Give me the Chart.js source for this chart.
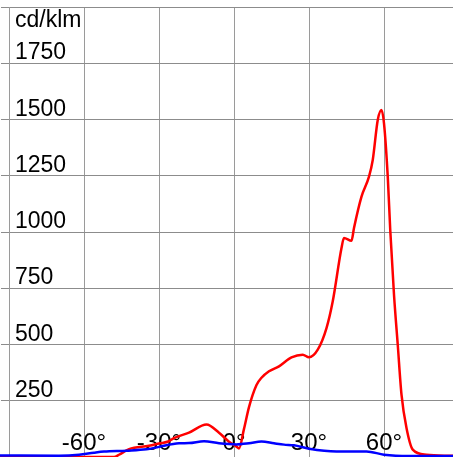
<!DOCTYPE html>
<html>
<head>
<meta charset="utf-8">
<script src="https://cdn.jsdelivr.net/npm/chart.js@4/dist/chart.umd.min.js"></script>
<style>
  html, body { margin: 0; padding: 0; background: #fff; overflow: hidden; }
  canvas { display: block; }
</style>
</head>
<body>
<canvas id="lightChart" width="453" height="457"></canvas>
<script>
// C0-C180 plane (red)
var redAngles = [-94, -48, -46, -42, -34, -30, -26, -24, -18, -11, -6, -2, 1, 2, 4, 6, 9, 11, 14, 18, 23, 27.5, 30, 33.5, 37, 39.5, 43, 44, 47, 48, 51, 54, 55.5, 57.5, 59, 60, 61.5, 62.5, 64, 65.5, 67, 69, 71.5, 77, 87.6];
var redValues = [0, 0, 10, 35, 50, 60, 70, 84, 108, 144, 108, 68, 46, 38, 125, 222, 320, 352, 381, 403, 443, 455, 443, 477, 573, 692, 929, 973, 961, 1018, 1157, 1246, 1320, 1498, 1542, 1483, 1246, 1009, 721, 499, 277, 129, 33, 10, 5];

// C90-C270 plane (blue)
var blueAngles = [-94, -70, -62, -56, -52, -43, -35, -30, -22, -18, -12, -6, 1, 6, 11, 16, 20, 24, 30, 41, 53, 60, 70, 87.6];
var blueValues = [7, 6, 10, 19, 24, 28, 34, 45, 61, 62, 70, 61, 56, 61, 69, 61, 55, 52, 37, 25, 25, 10, 4, 4];

var yTickLabels = ['250', '500', '750', '1000', '1250', '1500', '1750'];
var yTickValues = [250, 500, 750, 1000, 1250, 1500, 1750];
var xTickLabels = ['-60°', '-30°', '0°', '30°', '60°'];
var xTickValues = [-60, -30, 0, 30, 60];
var unitLabel = 'cd/klm';

function toPoints(xs, ys) {
    return xs.map(function(x, i) { return {x: x, y: ys[i]}; });
}

// draws the tick texts inside the plot area
var insideLabels = {
    id: 'insideLabels',
    beforeDatasetsDraw: function(chart) {
        var ctx = chart.ctx;
        var xScale = chart.scales.x;
        var yScale = chart.scales.y;
        var left = chart.chartArea.left;
        ctx.save();
        ctx.fillStyle = '#000';
        ctx.font = '23px "Liberation Sans", Arial, sans-serif';
        ctx.textAlign = 'left';
        ctx.textBaseline = 'alphabetic';
        yTickValues.forEach(function(v, i) {
            ctx.fillText(yTickLabels[i], left + 6, yScale.getPixelForValue(v) - 4);
        });
        ctx.fillText(unitLabel, left + 6, yScale.getPixelForValue(2000) + 20);
        ctx.font = '24px "Liberation Sans", Arial, sans-serif';
        ctx.textAlign = 'center';
        xTickValues.forEach(function(v, i) {
            ctx.fillText(xTickLabels[i], xScale.getPixelForValue(v), 450);
        });
        ctx.restore();
    }
};

var ctx = document.getElementById('lightChart').getContext('2d');
var lightChart = new Chart(ctx, {
    type: 'line',
    data: {
        datasets: [{
            label: 'C0-C180',
            data: toPoints(redAngles, redValues),
            borderColor: '#ff0000',
            borderWidth: 2.5,
            pointRadius: 0,
            cubicInterpolationMode: 'monotone',
            clip: false,
            order: 1
        }, {
            label: 'C90-C270',
            data: toPoints(blueAngles, blueValues),
            borderColor: '#0000ff',
            borderWidth: 2.5,
            pointRadius: 0,
            cubicInterpolationMode: 'monotone',
            clip: false,
            order: 0
        }]
    },
    options: {
        responsive: false,
        animation: false,
        devicePixelRatio: 1,
        layout: {
            padding: { left: 1, top: 7, right: 0, bottom: 0 }
        },
        plugins: {
            legend: { display: false },
            tooltip: { enabled: false }
        },
        scales: {
            x: {
                type: 'linear',
                min: -90,
                max: 87.6,
                ticks: { display: false, stepSize: 30, includeBounds: false },
                grid: { color: '#9a9a9a', lineWidth: 1, drawTicks: false },
                border: { display: false }
            },
            y: {
                min: 0,
                max: 2000,
                ticks: { display: false, stepSize: 250 },
                grid: { color: '#8c8c8c', lineWidth: 1, drawTicks: true, tickLength: 8 },
                border: { display: true, color: '#9a9a9a' }
            }
        }
    },
    plugins: [insideLabels]
});
</script>
</body>
</html>
